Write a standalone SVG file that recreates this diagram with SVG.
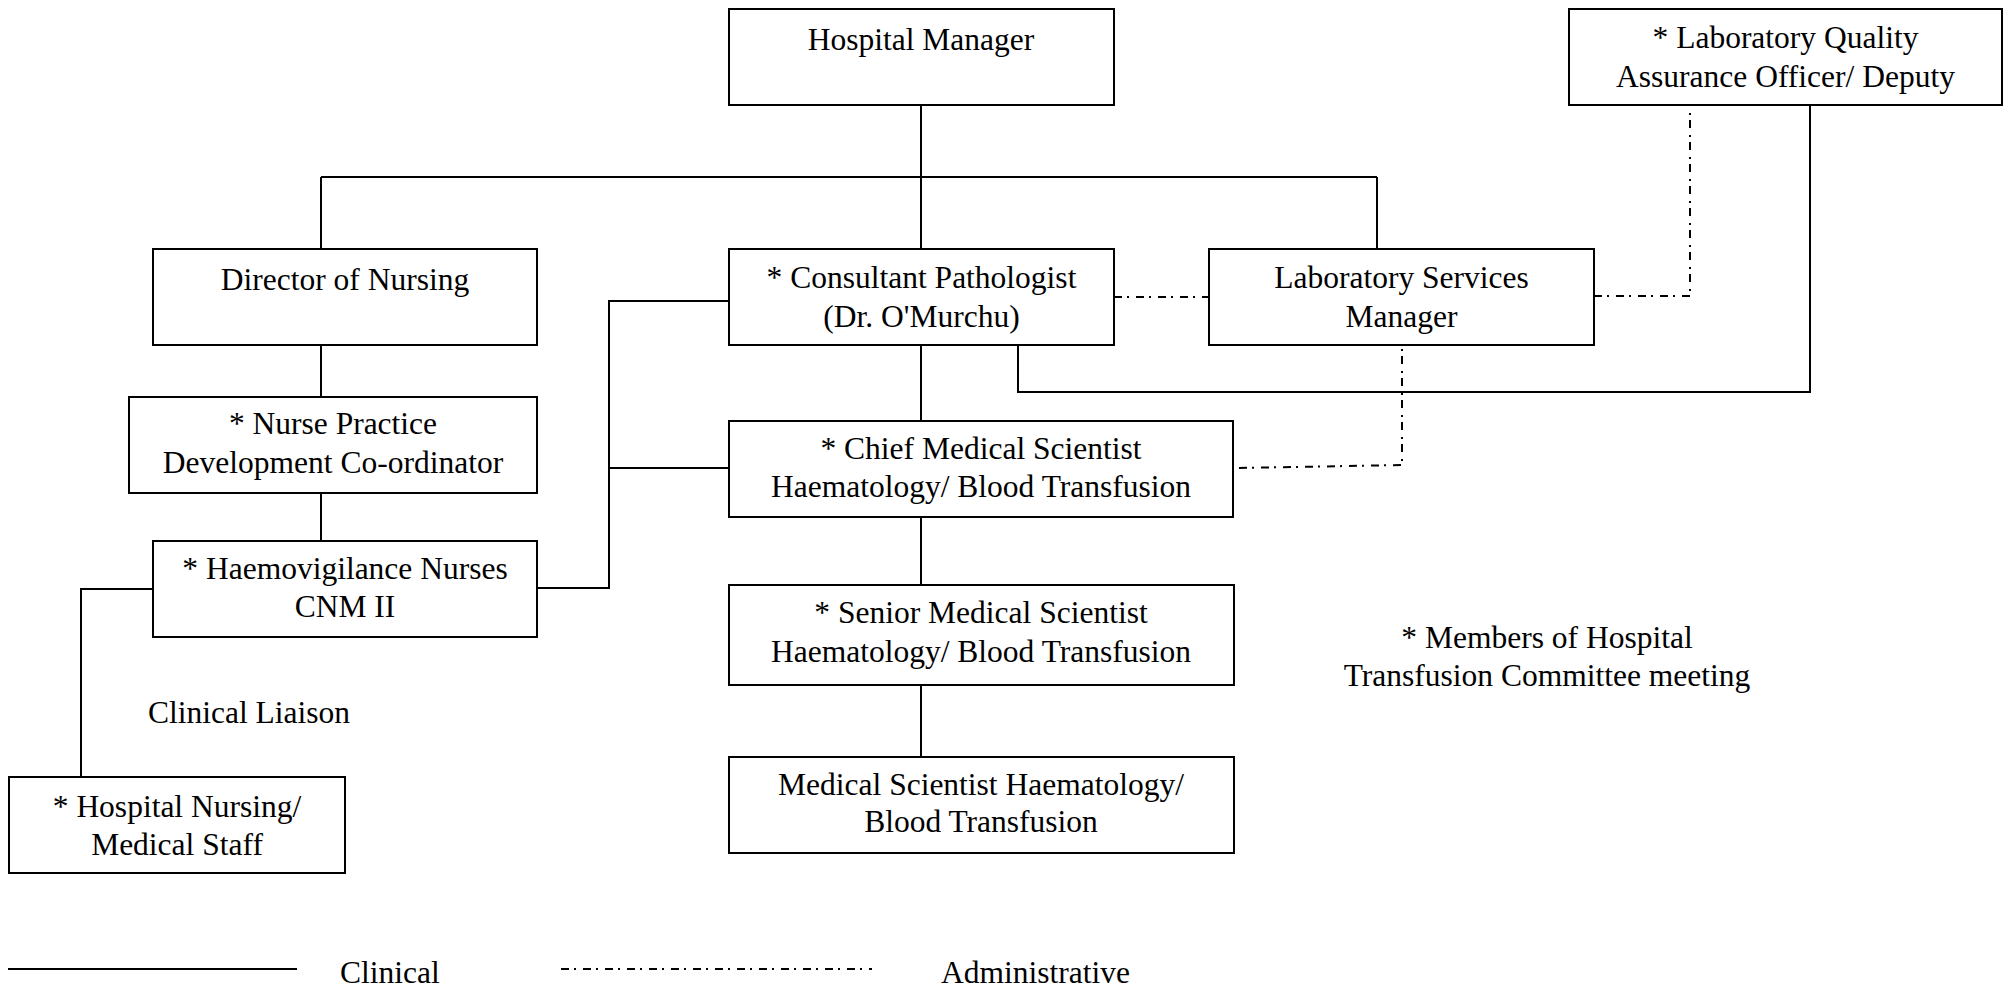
<svg xmlns="http://www.w3.org/2000/svg" width="2008" height="989" viewBox="0 0 2008 989">
<style>
.box{fill:#fff;stroke:#000;stroke-width:2}
.t{font-family:"Liberation Serif","Times New Roman",serif;font-size:31.5px;fill:#000;text-anchor:middle}
.ts{font-family:"Liberation Serif","Times New Roman",serif;font-size:31.5px;fill:#000;text-anchor:start}
.c{fill:none;stroke:#000;stroke-width:2}
.a{fill:none;stroke:#000;stroke-width:2;stroke-dasharray:8 5 2 7}
</style>
<rect width="2008" height="989" fill="#fff"/>
<g id="connectors">
<path class="c" d="M921 105V249M321 177H1377M321 177V249M1377 177V249M321 345V397M321 493V541M921 345V421M921 517V585M921 685V757"/>
<path class="c" d="M537 588H609V301H729M609 468H729"/>
<path class="c" d="M1018 345V392H1810V105"/>
<path class="c" d="M153 589H81V780"/>
<path class="a" d="M1114 297H1209"/>
<path class="a" d="M1594 296H1690V105"/>
<path class="a" d="M1239 468L1402 465V345"/>
</g>
<g id="hospital-manager"><rect class="box" x="729" y="9" width="385" height="96"/><text class="t" x="921" y="50">Hospital Manager</text></g>
<g id="lab-quality"><rect class="box" x="1569" y="9" width="433" height="96"/><text class="t" x="1785.5" y="48">* Laboratory Quality</text><text class="t" x="1785.5" y="87">Assurance Officer/ Deputy</text></g>
<g id="director-nursing"><rect class="box" x="153" y="249" width="384" height="96"/><text class="t" x="345" y="290">Director of Nursing</text></g>
<g id="consultant"><rect class="box" x="729" y="249" width="385" height="96"/><text class="t" x="921.5" y="288">* Consultant Pathologist</text><text class="t" x="921.5" y="327">(Dr. O'Murchu)</text></g>
<g id="lab-services"><rect class="box" x="1209" y="249" width="385" height="96"/><text class="t" x="1401.5" y="288">Laboratory Services</text><text class="t" x="1401.5" y="327">Manager</text></g>
<g id="nurse-practice"><rect class="box" x="129" y="397" width="408" height="96"/><text class="t" x="333" y="434">* Nurse Practice</text><text class="t" x="333" y="473">Development Co-ordinator</text></g>
<g id="chief-scientist"><rect class="box" x="729" y="421" width="504" height="96"/><text class="t" x="981" y="459">* Chief Medical Scientist</text><text class="t" x="981" y="497">Haematology/ Blood Transfusion</text></g>
<g id="haemovigilance"><rect class="box" x="153" y="541" width="384" height="96"/><text class="t" x="345" y="579">* Haemovigilance Nurses</text><text class="t" x="345" y="617">CNM II</text></g>
<g id="senior-scientist"><rect class="box" x="729" y="585" width="505" height="100"/><text class="t" x="981" y="623">* Senior Medical Scientist</text><text class="t" x="981" y="662">Haematology/ Blood Transfusion</text></g>
<g id="medical-scientist"><rect class="box" x="729" y="757" width="505" height="96"/><text class="t" x="981" y="795">Medical Scientist Haematology/</text><text class="t" x="981" y="832">Blood Transfusion</text></g>
<g id="hospital-nursing"><rect class="box" x="9" y="777" width="336" height="96"/><text class="t" x="177" y="817">* Hospital Nursing/</text><text class="t" x="177" y="855">Medical Staff</text></g>
<g id="notes">
<text class="ts" x="148" y="723">Clinical Liaison</text>
<text class="t" x="1547" y="648">* Members of Hospital</text>
<text class="t" x="1547" y="686">Transfusion Committee meeting</text>
</g>
<g id="legend">
<path class="c" d="M8 969H297"/>
<text class="ts" x="340" y="983">Clinical</text>
<path class="a" d="M561 969H872"/>
<text class="ts" x="941" y="983">Administrative</text>
</g>
</svg>
